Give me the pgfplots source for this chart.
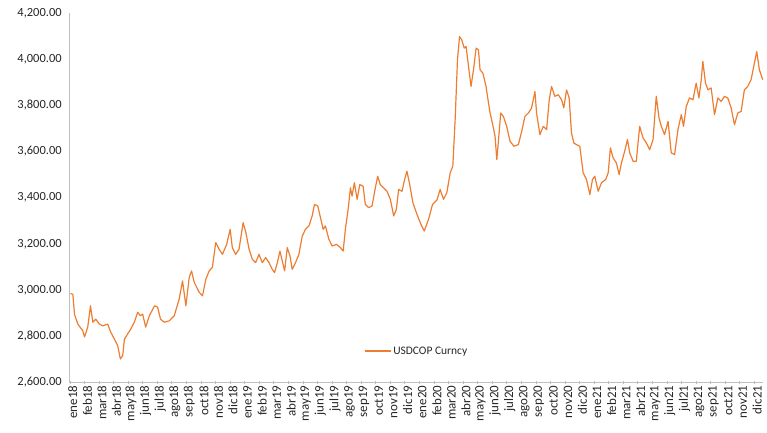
\documentclass[border=0pt]{standalone}
\usepackage{pgfplots}
\pgfplotsset{compat=1.18}
\usepackage{pgfplotstable}
\usepackage{fontspec}
\setmainfont{Carlito}
\definecolor{xlorange}{HTML}{ED7D31}
\definecolor{axgray}{HTML}{BFBFBF}
\definecolor{txtgray}{HTML}{262626}

\pgfplotstableread{
m v
0.05 2985
0.21 2982
0.32 2896
0.55 2853
0.89 2824
1.01 2797
1.23 2840
1.42 2932
1.58 2861
1.78 2874
2.03 2853
2.26 2845
2.60 2853
2.81 2818
3.06 2788
3.29 2759
3.47 2702
3.63 2716
3.75 2788
3.97 2810
4.18 2831
4.43 2861
4.66 2904
4.84 2889
5.00 2896
5.21 2840
5.46 2889
5.82 2932
6.03 2926
6.23 2874
6.49 2861
6.83 2867
7.17 2889
7.51 2961
7.74 3040
7.97 2932
8.20 3056
8.36 3083
8.54 3034
8.88 2991
9.11 2975
9.34 3047
9.57 3083
9.79 3099
10.02 3206
10.25 3177
10.48 3155
10.77 3198
11.01 3263
11.16 3184
11.39 3155
11.62 3177
11.90 3292
12.08 3252
12.31 3177
12.53 3134
12.76 3119
12.99 3155
13.22 3119
13.45 3141
13.68 3119
13.90 3090
14.06 3076
14.25 3119
14.43 3169
14.59 3126
14.75 3083
14.93 3184
15.12 3148
15.27 3090
15.50 3119
15.73 3155
15.96 3234
16.18 3263
16.42 3278
16.64 3321
16.80 3371
17.03 3364
17.21 3314
17.40 3263
17.55 3278
17.79 3220
18.01 3191
18.31 3198
18.58 3184
18.77 3169
18.92 3263
19.11 3349
19.27 3443
19.38 3407
19.54 3465
19.73 3393
19.91 3457
20.14 3450
20.29 3371
20.53 3357
20.75 3364
20.98 3443
21.14 3493
21.32 3457
21.55 3443
21.78 3428
22.01 3393
22.24 3321
22.42 3349
22.58 3436
22.81 3428
22.99 3479
23.15 3515
23.34 3457
23.56 3378
23.84 3328
24.11 3285
24.34 3256
24.65 3310
24.90 3370
25.21 3390
25.43 3436
25.66 3393
25.89 3422
26.12 3508
26.30 3537
26.46 3738
26.62 3997
26.76 4098
26.92 4083
27.08 4048
27.21 4055
27.38 3968
27.55 3882
27.72 3954
27.90 4048
28.06 4040
28.17 3954
28.36 3940
28.58 3882
28.75 3810
28.86 3767
29.04 3716
29.20 3666
29.32 3565
29.43 3644
29.59 3767
29.77 3752
30.00 3709
30.23 3644
30.50 3623
30.80 3630
31.03 3687
31.25 3752
31.49 3767
31.71 3789
31.94 3860
32.05 3767
32.28 3673
32.51 3709
32.74 3695
32.92 3824
33.08 3882
33.31 3839
33.54 3846
33.77 3824
33.92 3789
34.11 3867
34.29 3832
34.45 3680
34.61 3637
34.79 3630
35.02 3623
35.25 3508
35.48 3479
35.71 3414
35.89 3479
36.05 3493
36.28 3428
36.51 3465
36.80 3479
36.97 3508
37.12 3616
37.31 3572
37.53 3551
37.72 3500
37.88 3551
38.10 3601
38.29 3652
38.45 3594
38.68 3558
38.90 3558
39.13 3709
39.36 3659
39.59 3637
39.82 3608
40.05 3652
40.27 3839
40.46 3745
40.62 3709
40.84 3673
41.08 3731
41.30 3594
41.53 3587
41.76 3695
41.99 3760
42.14 3709
42.33 3795
42.55 3832
42.79 3824
43.01 3896
43.20 3832
43.36 3911
43.47 3990
43.65 3896
43.82 3867
44.04 3875
44.27 3760
44.50 3832
44.73 3817
44.95 3839
45.18 3832
45.41 3789
45.64 3716
45.87 3767
46.10 3774
46.32 3867
46.55 3882
46.78 3911
47.01 3983
47.17 4033
47.35 3954
47.58 3911
}\usdcop

\begin{document}
\begin{tikzpicture}[x=1pt,y=1pt]
\useasboundingbox (-70pt,-50.5pt) rectangle (699pt,383.5pt);
\begin{axis}[
  at={(0pt,0pt)}, anchor=origin,
  scale only axis,
  width=695pt, height=370.5pt,
  xmin=0, xmax=47.6,
  ymin=2600, ymax=4200,
  axis x line=bottom, axis y line=left,
  axis line style={-, draw=axgray, line width=0.8pt},
  ytick={2600,2800,...,4200},
  xtick={0,1,...,47},
  xticklabels={ene18,feb18,mar18,abr18,may18,jun18,jul18,ago18,sep18,oct18,nov18,dic18,
               ene19,feb19,mar19,abr19,may19,jun19,jul19,ago19,sep19,oct19,nov19,dic19,
               ene20,feb20,mar20,abr20,may20,jun20,jul20,ago20,sep20,oct20,nov20,dic20,
               ene21,feb21,mar21,abr21,may21,jun21,jul21,ago21,sep21,oct21,nov21,dic21},
  x tick label style={rotate=90, anchor=east, font=\fontsize{13}{13}\selectfont, text=txtgray, inner sep=1pt, yshift=-3pt},
  y tick label style={anchor=east, font=\fontsize{12.5}{12.5}\selectfont, text=txtgray, inner sep=0pt, xshift=-6pt},
  yticklabel style={/pgf/number format/.cd, fixed, fixed zerofill, precision=2, 1000 sep={,}, assume math mode=true},
  ytick style={draw=none},
  xtick style={draw=axgray, line width=0.6pt},
  major tick length=4pt,
  tick align=center,
  clip=false,
  legend style={draw=none, fill=none, at={(0.42,0.085)}, anchor=west,
                font=\fontsize{11.5}{11.5}\selectfont, text=txtgray},
  legend cell align=left,
  legend image code/.code={\draw[#1] (0pt,0pt) -- (26pt,0pt);},
]
\addplot[color=xlorange, line width=1.2pt, line join=round] table[x=m, y=v] {\usdcop};
\addlegendentry{USDCOP Curncy}
\end{axis}
\end{tikzpicture}
\end{document}
